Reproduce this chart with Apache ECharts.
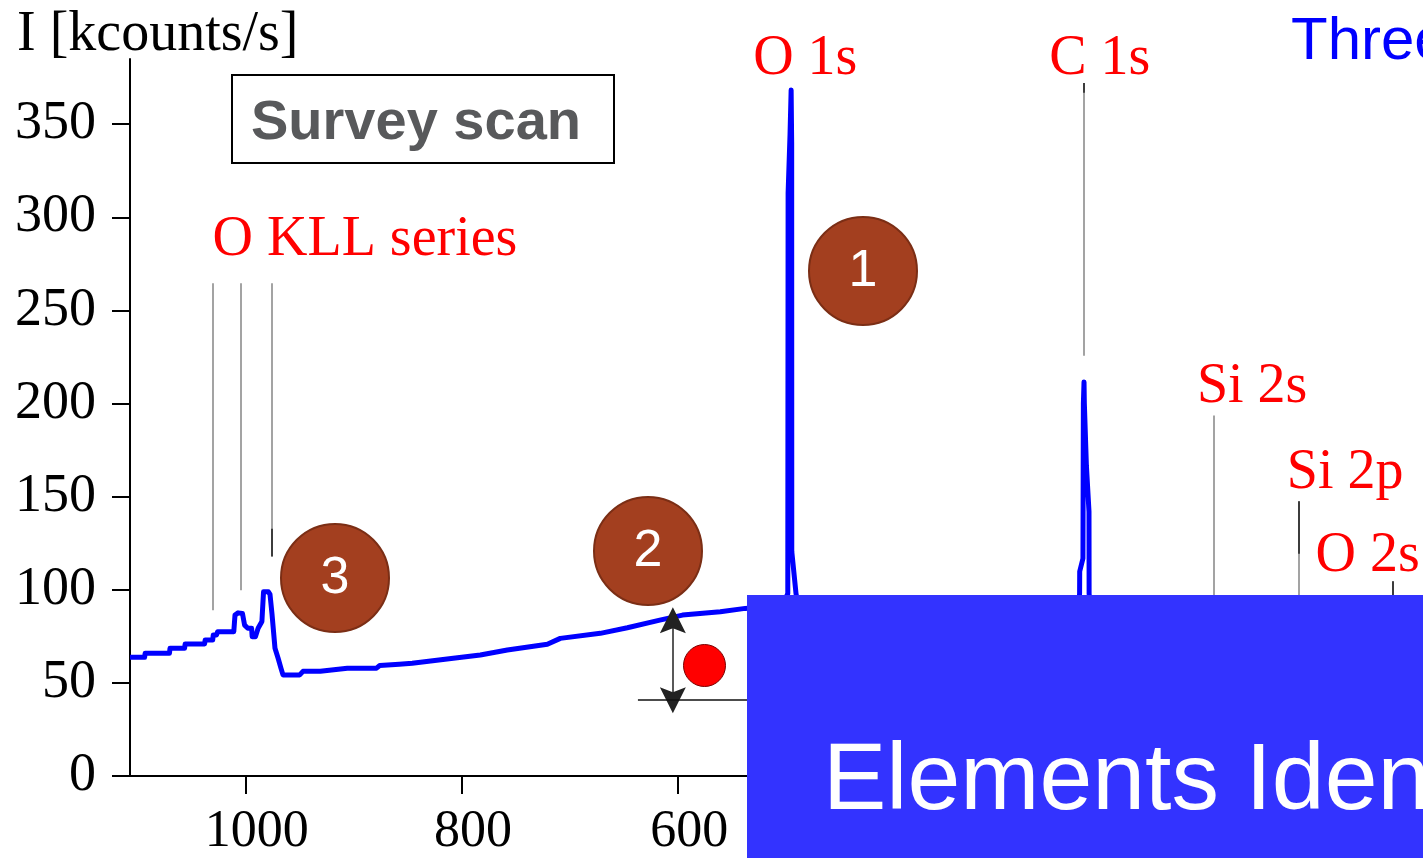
<!DOCTYPE html>
<html>
<head>
<meta charset="utf-8">
<title>XPS survey scan</title>
<script src="https://cdn.jsdelivr.net/npm/echarts@6/dist/echarts.min.js"></script>
<style>
  html, body { margin: 0; padding: 0; background: #fff; }
  #chart { width: 1423px; height: 858px; }
</style>
</head>
<body>
<div id="chart"></div>
<script>
// Binding energy (eV) and intensity (kcounts/s) of the survey spectrum
const energy = [
  1107, 1093.5, 1093, 1070.5, 1070, 1056.5, 1056, 1038, 1037.5, 1030.5,
  1030, 1027, 1026, 1011, 1009.9, 1007, 1003, 1001, 998, 994.5,
  994, 991, 988.5, 985, 983.5, 979, 977.5, 975.7, 972.9, 970,
  967.4, 965.5, 950, 947, 931, 906, 879, 876, 858, 846,
  808, 783, 758, 721, 709, 672, 647, 617, 596, 561,
  538, 515, 503, 498.6, 498.3, 496.5, 495.5, 495.0, 494.9, 491,
  486, 440, 380, 320, 260, 232, 228.7, 228.6, 225.6, 225.2,
  224.6, 224.3, 222.4, 220.0, 219.9, 216, 160, 100, 40, -20, -88
];
const intensity = [
  63.7, 63.7, 65.9, 65.9, 68.6, 68.6, 70.9, 70.9, 73.0, 73.0,
  75.7, 75.7, 77.5, 77.5, 86.4, 87.6, 87.3, 81.0, 79.3, 79.3,
  74.8, 74.8, 79.3, 83.0, 98.9, 98.9, 97.5, 87.3, 68.6, 63.2,
  57.9, 54.3, 54.3, 56.2, 56.2, 57.9, 57.9, 59.3, 60.0, 60.5,
  63.2, 65.0, 67.7, 70.7, 73.9, 76.6, 79.6, 83.7, 86.4, 88.2,
  90.0, 91.0, 92.0, 98, 313, 345, 368.3, 340, 120.5, 98,
  82, 78, 76, 74, 72, 72, 98, 109.8, 116.8, 200,
  211.6, 200, 166.6, 141.9, 98, 70, 68, 66, 64, 62, 60
];

// Peak identification lines: energy, lower and upper intensity
const markerEnergy = [1030.6, 1004.3, 976.0, 224.9, 104.7, 25.8, -60.6];
const markerLow    = [89.0, 99.8, 117.8, 225.7, 95, 95, 95];
const markerHigh   = [264.6, 264.6, 264.6, 372.1, 193.6, 147.5, 104.6];
// darker stretches drawn over some of those lines
const inkEnergy = [976.0, 224.9, 25.8, -60.6];
const inkLow    = [117.8, 366.9, 119.4, 95];
const inkHigh   = [132.8, 372.1, 147.5, 104.6];

// Peak names and where they are written (energy, intensity)
const peakNames   = ['O KLL series', 'O 1s', 'C 1s', 'Si 2s', 'Si 2p', 'O 2s'];
const labelEnergy = [889.7, 482.4, 210.0, 69.1, -16.9, -37.7];
const labelHeight = [287.6, 385.0, 385.0, 208.9, 162.8, 117.8];

// Background level indicator at 605 eV
const bgEnergy = 604.9;
const bgSignal = 83.6;
const bgBase = 40.7;
const bgBaseFrom = 637.2;
const bgBaseTo = 520;

// Axis ticks
const xTicks = [1000, 800, 600, 400, 200, 0];
const yTicks = [0, 50, 100, 150, 200, 250, 300, 350];

const chart = echarts.init(document.getElementById('chart'), null, { renderer: 'canvas' });

const serif = 'Liberation Serif';
const sans = 'Liberation Sans';

const segs = (xs, lo, hi) => xs.map((e, i) => ({ coords: [[e, lo[i]], [e, hi[i]]] }));
const labelPoints = peakNames.map((n, i) => ({ name: n, value: [labelEnergy[i], labelHeight[i]] }));

// slender arrow head pointing up
const arrowHead = 'path://M7 0 L14 26 L7 21 L0 26 Z';

const circles = [
  { cx: 863, cy: 271, n: '1' },
  { cx: 648, cy: 551, n: '2' },
  { cx: 335, cy: 578, n: '3' }
];

const graphics = [
  // panel title
  { type: 'rect', shape: { x: 232, y: 75, width: 382, height: 88 },
    style: { fill: '#fff', stroke: '#000', lineWidth: 2 }, z: 50 },
  { type: 'text', x: 251, y: 124, z: 51,
    style: { text: 'Survey scan', fill: '#58595b', font: 'bold 56px "' + sans + '"',
             textAlign: 'left', textVerticalAlign: 'middle' } },
  // axis title
  { type: 'text', x: 17, y: 35, z: 51,
    style: { text: 'I [kcounts/s]', fill: '#000', font: '56px "' + serif + '"',
             textAlign: 'left', textVerticalAlign: 'middle' } },
  { type: 'text', x: 1291, y: 42, z: 51,
    style: { text: 'Three', fill: '#0000ff', font: '60px "' + sans + '"',
             textAlign: 'left', textVerticalAlign: 'middle' } },
  // red dot next to the background arrow
  { type: 'circle', shape: { cx: 704.5, cy: 665.5, r: 21 }, z: 60,
    style: { fill: '#ff0000', stroke: '#7a0000', lineWidth: 1 } },
  // caption box
  { type: 'rect', shape: { x: 747, y: 595, width: 676, height: 263 },
    style: { fill: '#3333ff' }, z: 100 },
  { type: 'text', x: 823, y: 783, z: 101,
    style: { text: 'Elements Identification', fill: '#fff', font: '95px "' + sans + '"',
             textAlign: 'left', textVerticalAlign: 'middle' } }
];
circles.forEach(c => {
  graphics.push({ type: 'circle', shape: { cx: c.cx, cy: c.cy, r: 54 }, z: 60,
    style: { fill: '#a33f1f', stroke: '#7b2e15', lineWidth: 2 } });
  graphics.push({ type: 'text', x: c.cx, y: c.cy + 1, z: 61,
    style: { text: c.n, fill: '#fff', font: '52px "' + sans + '"',
             textAlign: 'center', textVerticalAlign: 'middle' } });
});

const option = {
  animation: false,
  backgroundColor: '#ffffff',
  grid: { left: 130, right: 1, top: 59, bottom: 80, containLabel: false },
  xAxis: {
    type: 'value', inverse: true, min: -88, max: 1107,
    axisLine: { show: true, onZero: false, lineStyle: { color: '#000', width: 2 } },
    axisTick: { show: true, customValues: xTicks, length: 18, inside: false,
                lineStyle: { color: '#000', width: 2 } },
    axisLabel: { show: true, customValues: xTicks, margin: 30, color: '#000',
                 fontFamily: serif, fontSize: 52, padding: [0, 0, 0, 22],
                 formatter: v => String(v) },
    splitLine: { show: false }
  },
  yAxis: {
    type: 'value', min: 0, max: 385,
    axisLine: { show: true, onZero: false, lineStyle: { color: '#000', width: 2 } },
    axisTick: { show: true, customValues: yTicks, length: 18, inside: false,
                lineStyle: { color: '#000', width: 2 } },
    axisLabel: { show: true, customValues: yTicks, margin: 34, color: '#000',
                 fontFamily: serif, fontSize: 54, formatter: v => String(v) },
    splitLine: { show: false }
  },
  series: [
    {
      type: 'lines', coordinateSystem: 'cartesian2d', z: 2,
      symbol: ['none', 'none'],
      lineStyle: { color: '#8c8c8c', width: 1.6, opacity: 1 },
      data: segs(markerEnergy, markerLow, markerHigh)
    },
    {
      type: 'lines', coordinateSystem: 'cartesian2d', z: 2,
      symbol: ['none', 'none'],
      lineStyle: { color: '#222', width: 1.6, opacity: 1 },
      data: segs(inkEnergy, inkLow, inkHigh)
    },
    {
      type: 'line', z: 3, showSymbol: false, symbol: 'none',
      lineStyle: { color: '#0000ff', width: 5, join: 'round' },
      data: energy.map((e, i) => [e, intensity[i]])
    },
    {
      type: 'lines', coordinateSystem: 'cartesian2d', z: 4,
      symbol: [arrowHead, arrowHead], symbolSize: 26, symbolKeepAspect: true,
      lineStyle: { color: '#222', width: 1.5, opacity: 1 },
      data: [{ coords: [[bgEnergy, bgSignal], [bgEnergy, bgBase]] }]
    },
    {
      type: 'lines', coordinateSystem: 'cartesian2d', z: 4,
      symbol: ['none', 'none'],
      lineStyle: { color: '#111', width: 1.5, opacity: 1 },
      data: [{ coords: [[bgBaseFrom, bgBase], [bgBaseTo, bgBase]] }]
    },
    {
      type: 'scatter', z: 5, clip: false, symbolSize: 1,
      itemStyle: { color: 'rgba(0,0,0,0)', opacity: 1 },
      label: { show: true, position: 'inside', formatter: p => p.name,
               color: '#ff0000', fontFamily: serif, fontSize: 56,
               align: 'center', verticalAlign: 'middle', textBorderWidth: 0 },
      labelLayout: { hideOverlap: false },
      data: labelPoints
    }
  ],
  graphic: graphics
};

chart.setOption(option);
</script>
</body>
</html>
